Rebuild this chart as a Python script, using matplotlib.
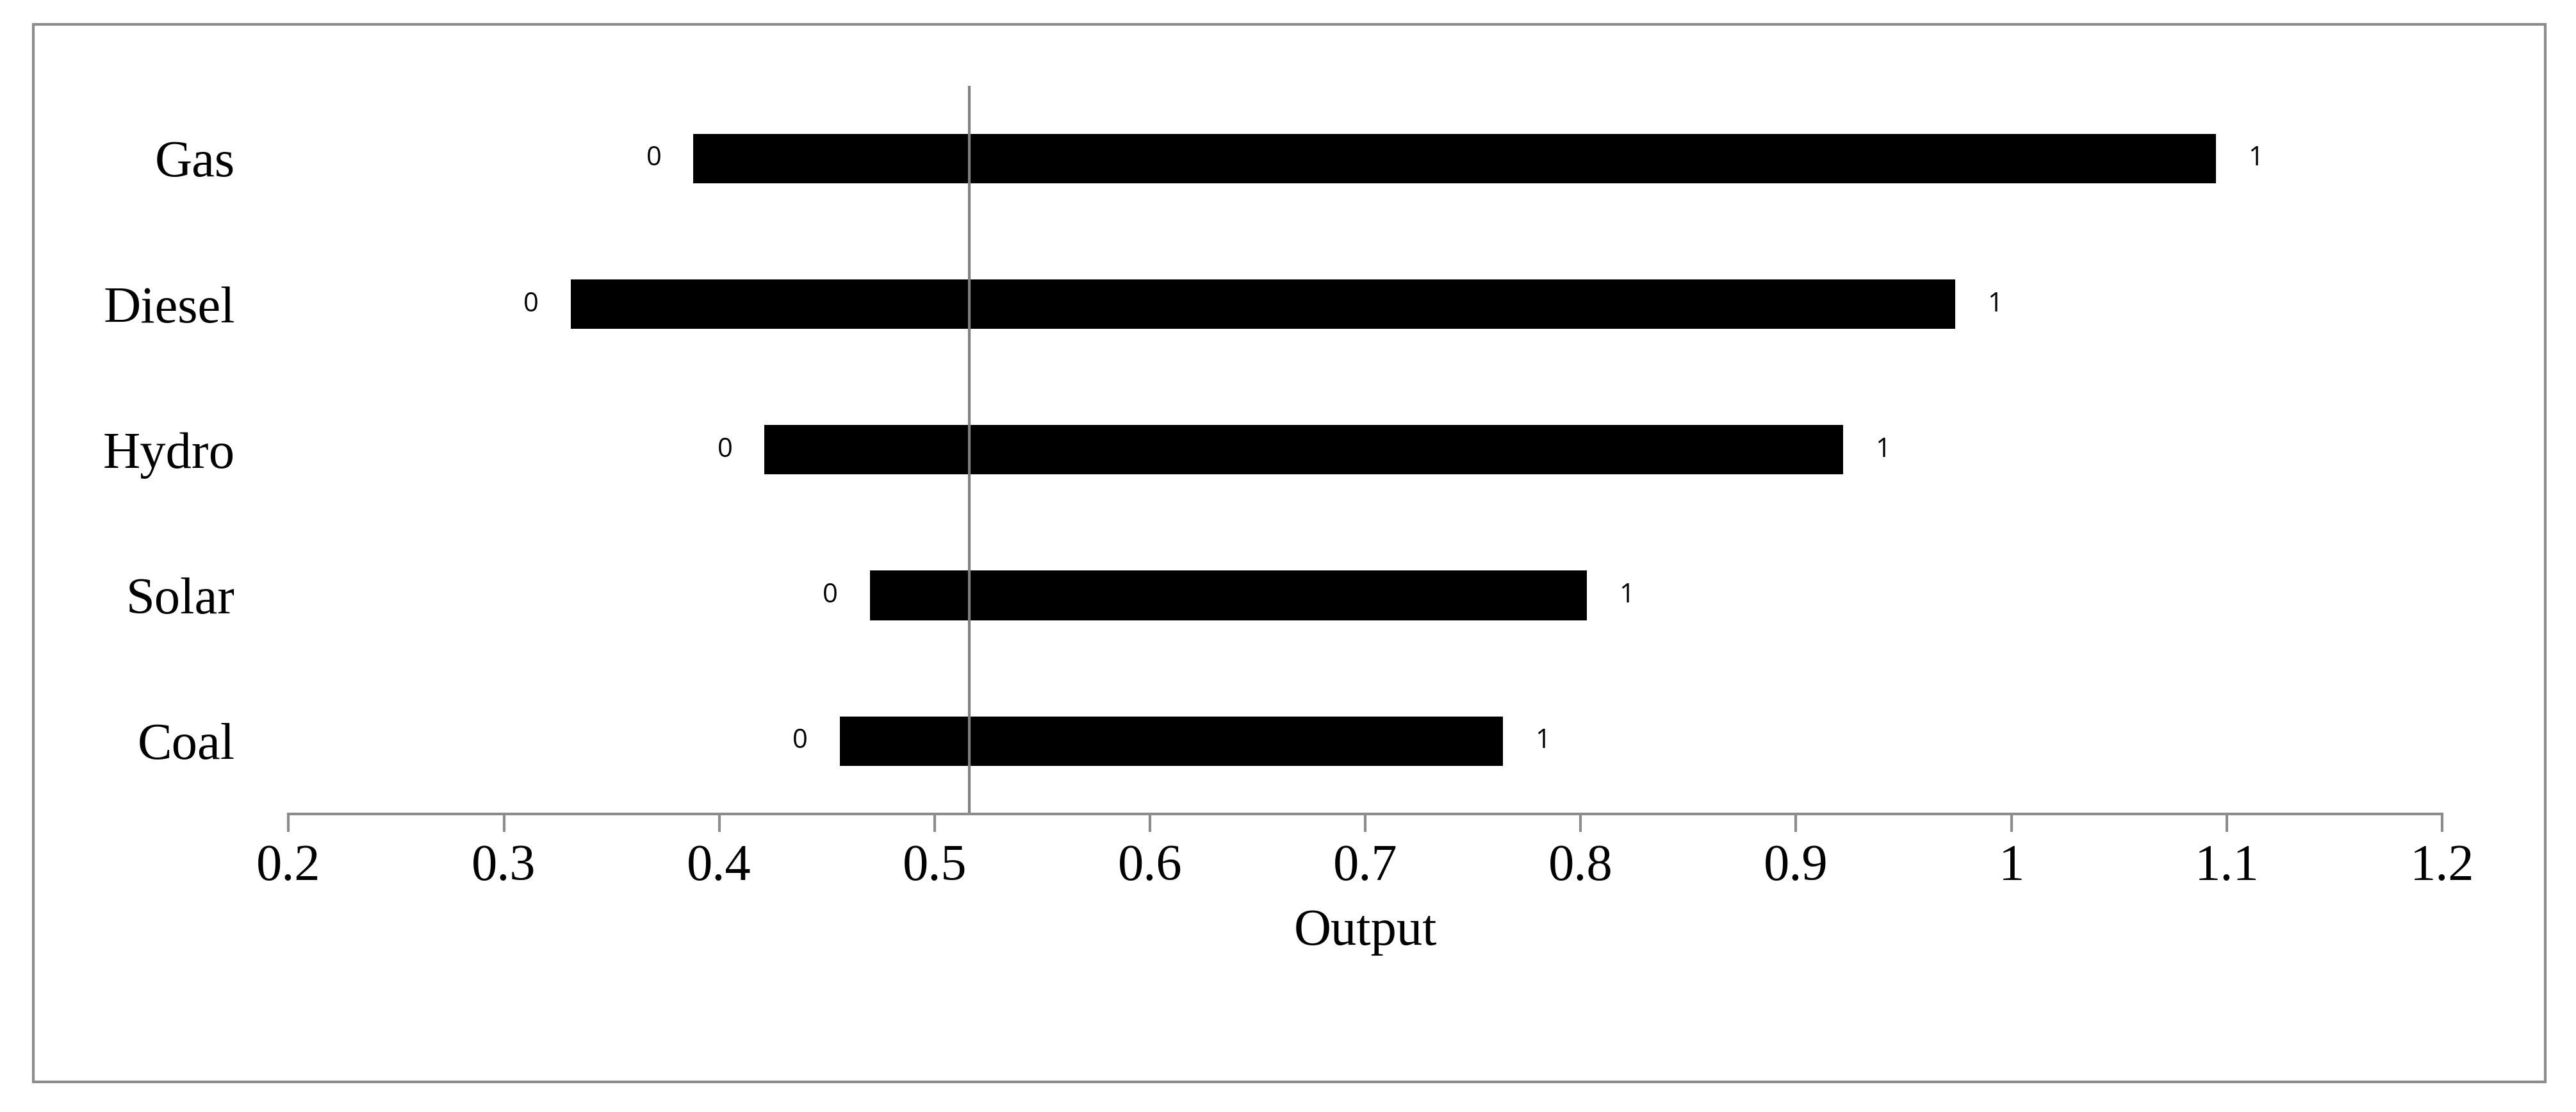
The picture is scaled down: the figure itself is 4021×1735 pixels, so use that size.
import matplotlib.pyplot as plt
from matplotlib.patches import Rectangle

categories = ["Coal", "Solar", "Hydro", "Diesel", "Gas"]
low = [0.456, 0.470, 0.421, 0.331, 0.388]
high = [0.764, 0.803, 0.922, 0.974, 1.095]
low_labels = ["0"] * 5
high_labels = ["1"] * 5
base = 0.516
ticks = [0.2, 0.3, 0.4, 0.5, 0.6, 0.7, 0.8, 0.9, 1, 1.1, 1.2]

fig = plt.figure(figsize=(40.21, 17.35), dpi=100)
fig.patches.append(Rectangle((0.013, 0.027), 0.975, 0.951, transform=fig.transFigure,
                             fill=False, edgecolor="#8c8c8c", linewidth=3))
ax = fig.add_axes([0.112, 0.268, 0.836, 0.655])

y = range(len(categories))
ax.barh(y, [h - l for l, h in zip(low, high)], left=low, height=0.34, color="black")
for i in y:
    ax.annotate(low_labels[i], (low[i], i), xytext=(-36, 0), textcoords="offset points",
                ha="right", va="center", fontsize=30, family="Open Sans")
    ax.annotate(high_labels[i], (high[i], i), xytext=(36, 0), textcoords="offset points",
                ha="left", va="center", fontsize=30, family="Open Sans")
ax.axvline(base, color="#808080", linewidth=3)

ax.set_xlim(0.2, 1.2)
ax.set_ylim(-0.5, 4.5)
ax.set_xticks(ticks)
ax.set_xticklabels([str(t) for t in ticks], family="Liberation Serif", fontsize=58)
ax.set_yticks(list(y))
ax.set_yticklabels(categories, family="Liberation Serif", fontsize=58)
ax.tick_params(axis="y", length=0, pad=60)
ax.tick_params(axis="x", length=20, width=3, color="#8c8c8c", pad=14)
for s in ["top", "right", "left"]:
    ax.spines[s].set_visible(False)
ax.spines["bottom"].set_color("#8c8c8c")
ax.spines["bottom"].set_linewidth(3)
ax.set_xlabel("Output", family="Liberation Serif", fontsize=58, labelpad=20)

fig.savefig("out.png", dpi=100)
